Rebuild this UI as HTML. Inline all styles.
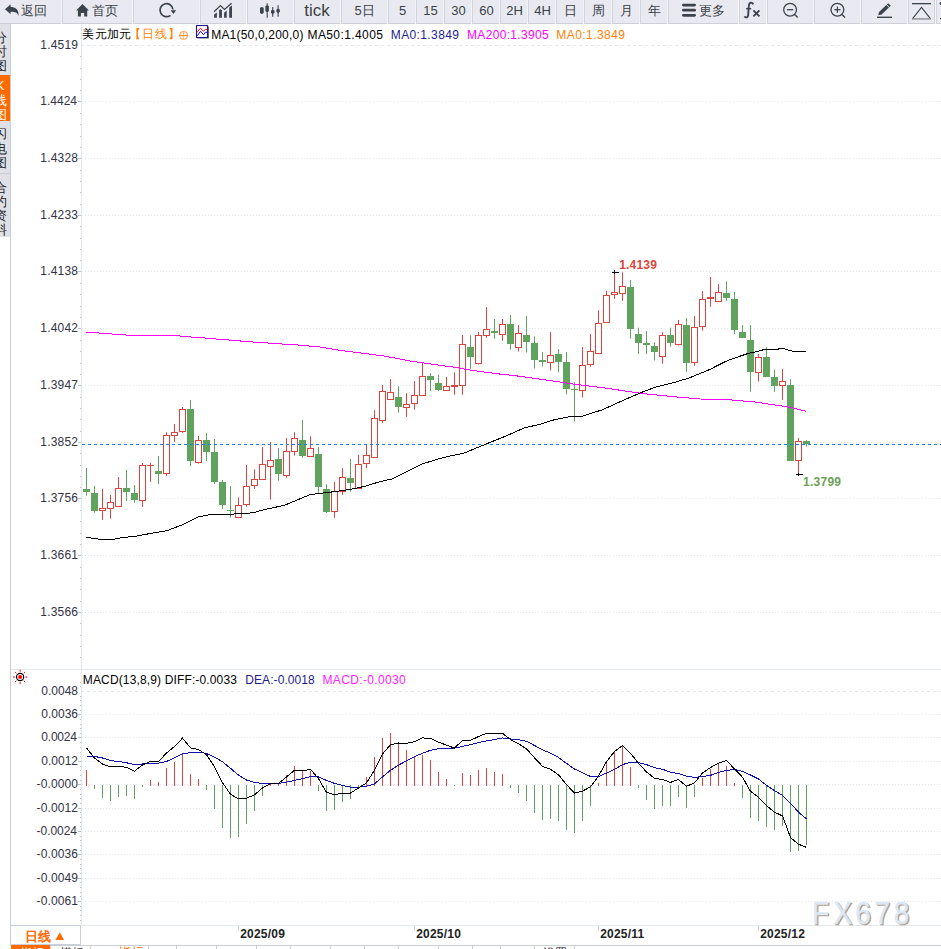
<!DOCTYPE html><html><head><meta charset="utf-8"><title>USDCAD</title><style>
html,body{margin:0;padding:0;width:941px;height:949px;overflow:hidden;background:#fff;font-family:"Liberation Sans",sans-serif;}
svg{position:absolute;left:0;top:0}
#tb{position:absolute;left:0;top:0;width:941px;height:24px;background:#f3f4f7}
.b{position:absolute;top:0;height:24px;box-sizing:border-box;background:#e9eaf1;border-left:1px solid #d3d5dc;border-bottom:1px solid #cdd0d7}

</style></head><body>
<div id="tb">
<div class="b" style="left:0px;width:61px;border-left:0;"></div>
<div class="b" style="left:62px;width:70px;"></div>
<div class="b" style="left:133px;width:66px;"></div>
<div class="b" style="left:200px;width:46px;"></div>
<div class="b" style="left:247px;width:46px;"></div>
<div class="b" style="left:294px;width:46px;"></div>
<div class="b" style="left:341px;width:46px;"></div>
<div class="b" style="left:388px;width:27px;"></div>
<div class="b" style="left:416px;width:27px;"></div>
<div class="b" style="left:444px;width:27px;"></div>
<div class="b" style="left:472px;width:27px;"></div>
<div class="b" style="left:500px;width:27px;"></div>
<div class="b" style="left:528px;width:27px;"></div>
<div class="b" style="left:556px;width:27px;"></div>
<div class="b" style="left:584px;width:27px;"></div>
<div class="b" style="left:612px;width:27px;"></div>
<div class="b" style="left:640px;width:27px;"></div>
<div class="b" style="left:668px;width:70px;"></div>
<div class="b" style="left:739px;width:27px;"></div>
<div class="b" style="left:767px;width:46px;"></div>
<div class="b" style="left:814px;width:46px;"></div>
<div class="b" style="left:861px;width:46px;"></div>
<div class="b" style="left:908px;width:27px;border-right:1px solid #d3d5dc;"></div>
<div class="b" style="left:936px;width:23px;"></div>
</div>
<svg width="941" height="949" viewBox="0 0 941 949">
<text x="34" y="15" text-anchor="middle" font-size="13" fill="#3a3f46">返回</text>
<text x="105" y="15" text-anchor="middle" font-size="13" fill="#3a3f46">首页</text>
<text x="317" y="16" text-anchor="middle" font-size="17" fill="#3a3f46">tick</text>
<text x="364.5" y="15.4" text-anchor="middle" font-size="13" fill="#3a3f46">5日</text>
<text x="402.5" y="15.4" text-anchor="middle" font-size="13" fill="#3a3f46">5</text>
<text x="430.5" y="15.4" text-anchor="middle" font-size="13" fill="#3a3f46">15</text>
<text x="458.5" y="15.4" text-anchor="middle" font-size="13" fill="#3a3f46">30</text>
<text x="486.5" y="15.4" text-anchor="middle" font-size="13" fill="#3a3f46">60</text>
<text x="514.5" y="15.4" text-anchor="middle" font-size="13" fill="#3a3f46">2H</text>
<text x="542.5" y="15.4" text-anchor="middle" font-size="13" fill="#3a3f46">4H</text>
<text x="570.5" y="15.4" text-anchor="middle" font-size="13" fill="#3a3f46">日</text>
<text x="598.5" y="15.4" text-anchor="middle" font-size="13" fill="#3a3f46">周</text>
<text x="626.5" y="15.4" text-anchor="middle" font-size="13" fill="#3a3f46">月</text>
<text x="654.5" y="15.4" text-anchor="middle" font-size="13" fill="#3a3f46">年</text>
<text x="712" y="15" text-anchor="middle" font-size="13" fill="#3a3f46">更多</text>
<path d="M5,9.3 L10.6,4.2 L10.6,7.0 C15.6,7.0 18.9,9.6 18.6,15.9 C17.6,12.9 15.6,11.7 10.6,11.7 L10.6,14.2 Z" fill="#3b434d"/>
<path d="M76,10.6 L82.5,4.1 L89,10.6 L87.2,10.6 L87.2,16.6 L84.2,16.6 L84.2,12.9 L80.9,12.9 L80.9,16.6 L77.9,16.6 L77.9,10.6 Z" fill="#3b434d"/>
<path d="M170.50,15.32 A6.5,6.5 0 1 1 172.96,9.52" fill="none" stroke="#3b434d" stroke-width="1.7"/>
<path d="M170.6,10.3 L176.2,10.3 L173.4,13.9 Z" fill="#3b434d"/>
<path fill="#3b434d" d="M214.1,17.8 L214.1,14.6 L216.9,12.4 L216.9,17.8 Z M219.1,17.8 L219.1,10.3 L220.5,8.9 L221.9,10.3 L221.9,17.8 Z M224.1,17.8 L224.1,12.8 L226.7,10.6 L226.7,17.8 Z M229.2,17.8 L229.2,7.6 L232,5.4 L232,17.8 Z"/>
<path d="M214.1,11.7 L220.4,5.6 L224.5,9.4 L231.6,3.2" fill="none" stroke="#3b434d" stroke-width="1.3"/>
<g stroke="#3b434d" stroke-width="1.1"><line x1="267.2" y1="3.2" x2="267.2" y2="17.7"/><line x1="272.7" y1="6.9" x2="272.7" y2="16.7"/><line x1="278.1" y1="5.2" x2="278.1" y2="16.7"/></g>
<path fill="#3b434d" d="M260,7.7 L261.85,6.9 L263.7,7.7 L263.7,13.1 L261.85,13.9 L260,13.1 Z M265.4,6.0 L267.15,5.2 L268.9,6.0 L268.9,11.299999999999999 L267.15,12.1 L265.4,11.299999999999999 Z M271,10.600000000000001 L272.75,9.8 L274.5,10.600000000000001 L274.5,13.1 L272.75,13.9 L271,13.1 Z M276.4,9.600000000000001 L278.1,8.8 L279.8,9.600000000000001 L279.8,12.1 L278.1,12.9 L276.4,12.1 Z "/>
<g fill="#3b434d"><rect x="682" y="3.7" width="14" height="2.8" rx="1.4"/><rect x="682" y="8.8" width="14" height="2.8" rx="1.4"/><rect x="682" y="13.9" width="14" height="2.8" rx="1.4"/></g>
<path d="M753.3,4.4 C752.6,2.7 751.1,2.3 750.1,2.9 C749.2,3.4 748.9,4.6 748.8,6.2 L748.2,14.8 C748.1,16.6 747.1,17.5 745.9,17.4 C745.2,17.3 744.7,17 744.3,16.5" fill="none" stroke="#3b434d" stroke-width="1.9"/>
<path d="M746.2,8.7 L751.2,8.7" stroke="#3b434d" stroke-width="1.5"/>
<path d="M753.4,10.4 L759.4,16.4 M759.4,10.4 L753.4,16.4" stroke="#3b434d" stroke-width="1.9"/>
<circle cx="790.1" cy="9.8" r="6.4" fill="none" stroke="#3b434d" stroke-width="1.3"/>
<line x1="794.7" y1="14.6" x2="797.7" y2="17.5" stroke="#3b434d" stroke-width="1.4"/>
<line x1="787.0" y1="9.7" x2="793.2" y2="9.7" stroke="#3b434d" stroke-width="1.3"/>
<circle cx="837.4" cy="9.8" r="6.4" fill="none" stroke="#3b434d" stroke-width="1.3"/>
<line x1="842.0" y1="14.6" x2="845.0" y2="17.5" stroke="#3b434d" stroke-width="1.4"/>
<line x1="834.3" y1="9.7" x2="840.5" y2="9.7" stroke="#3b434d" stroke-width="1.3"/>
<line x1="837.4" y1="6.6" x2="837.4" y2="12.8" stroke="#3b434d" stroke-width="1.3"/>
<path d="M878.2,15.2 L879,12 L888.2,3.2 L890.8,5.8 L881.6,14.6 Z" fill="#3b434d"/>
<rect x="877" y="16.6" width="15" height="1.4" fill="#3b434d"/>
<line x1="886.2" y1="4.4" x2="890" y2="8.2" stroke="#e9eaf1" stroke-width="0.9"/>
<rect x="912" y="3" width="19" height="1.3" fill="#3b434d"/>
<path d="M912.4,18.8 L921.5,7.3 L930.6,18.8" fill="none" stroke="#3b434d" stroke-width="1.1"/>
<rect x="912" y="18.2" width="19" height="1.4" fill="#8a8e96"/>
<circle cx="941" cy="3.5" r="1.4" fill="#3b434d"/><rect x="940" y="18" width="2" height="1.2" fill="#3b434d"/>
<rect x="0" y="24" width="10" height="213" fill="#dfe1e7"/>
<rect x="0" y="75" width="10" height="46" fill="#ff6a00"/>
<rect x="0" y="173" width="10" height="1" fill="#c9ccd3"/>
<rect x="10" y="24" width="1" height="921" fill="#c8cfd9"/>
<clipPath id="sb"><rect x="0" y="24" width="10" height="213"/></clipPath>
<g clip-path="url(#sb)" font-size="13">
<text x="-6.5" y="41.7" fill="#222">分</text>
<text x="-6.5" y="55.9" fill="#222">时</text>
<text x="-6.5" y="70.1" fill="#222">图</text>
<text x="-4.3" y="90.4" fill="#fff">K</text>
<text x="-6.5" y="104.6" fill="#fff">线</text>
<text x="-6.5" y="118.8" fill="#fff">图</text>
<text x="-6.5" y="138.4" fill="#222">闪</text>
<text x="-6.5" y="152.6" fill="#222">电</text>
<text x="-6.5" y="166.8" fill="#222">图</text>
<text x="-6.5" y="191.6" fill="#222">合</text>
<text x="-6.5" y="205.8" fill="#222">约</text>
<text x="-6.5" y="220.0" fill="#222">资</text>
<text x="-6.5" y="234.2" fill="#222">料</text>
</g>
<rect x="81" y="24" width="1" height="901" fill="#e3e8ef"/>
<rect x="11" y="669" width="930" height="1" fill="#e3e8ef"/>
<rect x="11" y="925" width="930" height="1" fill="#e3e8ef"/>
<line x1="81" y1="45.5" x2="941" y2="45.5" stroke="#e3e8ee" stroke-dasharray="3,3"/>
<text x="40.30" y="49" font-size="12" font-weight="normal" fill="#333344" textLength="37.70" lengthAdjust="spacing" >1.4519</text>
<line x1="82" y1="101.5" x2="941" y2="101.5" stroke="#e3e8ee" stroke-dasharray="1,2"/>
<line x1="78" y1="101.5" x2="81" y2="101.5" stroke="#b9c0c9"/>
<text x="40.30" y="105" font-size="12" font-weight="normal" fill="#333344" textLength="36.70" lengthAdjust="spacing" >1.4424</text>
<line x1="82" y1="158.5" x2="941" y2="158.5" stroke="#e3e8ee" stroke-dasharray="1,2"/>
<line x1="78" y1="158.5" x2="81" y2="158.5" stroke="#b9c0c9"/>
<text x="40.30" y="162" font-size="12" font-weight="normal" fill="#333344" textLength="37.70" lengthAdjust="spacing" >1.4328</text>
<line x1="82" y1="215.5" x2="941" y2="215.5" stroke="#e3e8ee" stroke-dasharray="1,2"/>
<line x1="78" y1="215.5" x2="81" y2="215.5" stroke="#b9c0c9"/>
<text x="40.30" y="219" font-size="12" font-weight="normal" fill="#333344" textLength="37.70" lengthAdjust="spacing" >1.4233</text>
<line x1="82" y1="271.5" x2="941" y2="271.5" stroke="#e3e8ee" stroke-dasharray="1,2"/>
<line x1="78" y1="271.5" x2="81" y2="271.5" stroke="#b9c0c9"/>
<text x="40.30" y="275" font-size="12" font-weight="normal" fill="#333344" textLength="37.70" lengthAdjust="spacing" >1.4138</text>
<line x1="82" y1="328.5" x2="941" y2="328.5" stroke="#e3e8ee" stroke-dasharray="1,2"/>
<line x1="78" y1="328.5" x2="81" y2="328.5" stroke="#b9c0c9"/>
<text x="40.30" y="332" font-size="12" font-weight="normal" fill="#333344" textLength="37.70" lengthAdjust="spacing" >1.4042</text>
<line x1="82" y1="385.5" x2="941" y2="385.5" stroke="#e3e8ee" stroke-dasharray="1,2"/>
<line x1="78" y1="385.5" x2="81" y2="385.5" stroke="#b9c0c9"/>
<text x="40.30" y="389" font-size="12" font-weight="normal" fill="#333344" textLength="37.70" lengthAdjust="spacing" >1.3947</text>
<line x1="82" y1="442.5" x2="941" y2="442.5" stroke="#e3e8ee" stroke-dasharray="1,2"/>
<line x1="78" y1="442.5" x2="81" y2="442.5" stroke="#b9c0c9"/>
<text x="40.30" y="446" font-size="12" font-weight="normal" fill="#333344" textLength="37.70" lengthAdjust="spacing" >1.3852</text>
<line x1="82" y1="498.5" x2="941" y2="498.5" stroke="#e3e8ee" stroke-dasharray="1,2"/>
<line x1="78" y1="498.5" x2="81" y2="498.5" stroke="#b9c0c9"/>
<text x="40.30" y="502" font-size="12" font-weight="normal" fill="#333344" textLength="37.70" lengthAdjust="spacing" >1.3756</text>
<line x1="82" y1="555.5" x2="941" y2="555.5" stroke="#e3e8ee" stroke-dasharray="1,2"/>
<line x1="78" y1="555.5" x2="81" y2="555.5" stroke="#b9c0c9"/>
<text x="40.30" y="559" font-size="12" font-weight="normal" fill="#333344" textLength="37.70" lengthAdjust="spacing" >1.3661</text>
<line x1="82" y1="612.5" x2="941" y2="612.5" stroke="#e3e8ee" stroke-dasharray="1,2"/>
<line x1="78" y1="612.5" x2="81" y2="612.5" stroke="#b9c0c9"/>
<text x="40.30" y="616" font-size="12" font-weight="normal" fill="#333344" textLength="37.70" lengthAdjust="spacing" >1.3566</text>
<rect x="80" y="56" width="1" height="1" fill="#b9c0c9"/>
<rect x="80" y="68" width="1" height="1" fill="#b9c0c9"/>
<rect x="80" y="79" width="1" height="1" fill="#b9c0c9"/>
<rect x="80" y="90" width="1" height="1" fill="#b9c0c9"/>
<rect x="80" y="113" width="1" height="1" fill="#b9c0c9"/>
<rect x="80" y="124" width="1" height="1" fill="#b9c0c9"/>
<rect x="80" y="136" width="1" height="1" fill="#b9c0c9"/>
<rect x="80" y="147" width="1" height="1" fill="#b9c0c9"/>
<rect x="80" y="170" width="1" height="1" fill="#b9c0c9"/>
<rect x="80" y="181" width="1" height="1" fill="#b9c0c9"/>
<rect x="80" y="192" width="1" height="1" fill="#b9c0c9"/>
<rect x="80" y="204" width="1" height="1" fill="#b9c0c9"/>
<rect x="80" y="226" width="1" height="1" fill="#b9c0c9"/>
<rect x="80" y="238" width="1" height="1" fill="#b9c0c9"/>
<rect x="80" y="249" width="1" height="1" fill="#b9c0c9"/>
<rect x="80" y="260" width="1" height="1" fill="#b9c0c9"/>
<rect x="80" y="283" width="1" height="1" fill="#b9c0c9"/>
<rect x="80" y="294" width="1" height="1" fill="#b9c0c9"/>
<rect x="80" y="306" width="1" height="1" fill="#b9c0c9"/>
<rect x="80" y="317" width="1" height="1" fill="#b9c0c9"/>
<rect x="80" y="340" width="1" height="1" fill="#b9c0c9"/>
<rect x="80" y="351" width="1" height="1" fill="#b9c0c9"/>
<rect x="80" y="363" width="1" height="1" fill="#b9c0c9"/>
<rect x="80" y="374" width="1" height="1" fill="#b9c0c9"/>
<rect x="80" y="397" width="1" height="1" fill="#b9c0c9"/>
<rect x="80" y="408" width="1" height="1" fill="#b9c0c9"/>
<rect x="80" y="419" width="1" height="1" fill="#b9c0c9"/>
<rect x="80" y="431" width="1" height="1" fill="#b9c0c9"/>
<rect x="80" y="453" width="1" height="1" fill="#b9c0c9"/>
<rect x="80" y="465" width="1" height="1" fill="#b9c0c9"/>
<rect x="80" y="476" width="1" height="1" fill="#b9c0c9"/>
<rect x="80" y="487" width="1" height="1" fill="#b9c0c9"/>
<rect x="80" y="510" width="1" height="1" fill="#b9c0c9"/>
<rect x="80" y="521" width="1" height="1" fill="#b9c0c9"/>
<rect x="80" y="533" width="1" height="1" fill="#b9c0c9"/>
<rect x="80" y="544" width="1" height="1" fill="#b9c0c9"/>
<rect x="80" y="567" width="1" height="1" fill="#b9c0c9"/>
<rect x="80" y="578" width="1" height="1" fill="#b9c0c9"/>
<rect x="80" y="589" width="1" height="1" fill="#b9c0c9"/>
<rect x="80" y="601" width="1" height="1" fill="#b9c0c9"/>
<rect x="80" y="623" width="1" height="1" fill="#b9c0c9"/>
<rect x="80" y="635" width="1" height="1" fill="#b9c0c9"/>
<rect x="80" y="646" width="1" height="1" fill="#b9c0c9"/>
<rect x="80" y="657" width="1" height="1" fill="#b9c0c9"/>
<line x1="81" y1="691.5" x2="941" y2="691.5" stroke="#e3e8ee" stroke-dasharray="3,3"/>
<text x="41.30" y="695" font-size="12" font-weight="normal" fill="#333344" textLength="36.70" lengthAdjust="spacing" >0.0048</text>
<line x1="82" y1="714.5" x2="941" y2="714.5" stroke="#e3e8ee" stroke-dasharray="1,2"/>
<line x1="78" y1="714.5" x2="81" y2="714.5" stroke="#b9c0c9"/>
<text x="41.30" y="718" font-size="12" font-weight="normal" fill="#333344" textLength="36.70" lengthAdjust="spacing" >0.0036</text>
<line x1="82" y1="737.5" x2="941" y2="737.5" stroke="#e3e8ee" stroke-dasharray="1,2"/>
<line x1="78" y1="737.5" x2="81" y2="737.5" stroke="#b9c0c9"/>
<text x="41.30" y="741" font-size="12" font-weight="normal" fill="#333344" textLength="35.70" lengthAdjust="spacing" >0.0024</text>
<line x1="82" y1="761.5" x2="941" y2="761.5" stroke="#e3e8ee" stroke-dasharray="1,2"/>
<line x1="78" y1="761.5" x2="81" y2="761.5" stroke="#b9c0c9"/>
<text x="41.30" y="765" font-size="12" font-weight="normal" fill="#333344" textLength="36.70" lengthAdjust="spacing" >0.0012</text>
<line x1="82" y1="784.5" x2="941" y2="784.5" stroke="#e3e8ee" stroke-dasharray="1,2"/>
<line x1="78" y1="784.5" x2="81" y2="784.5" stroke="#b9c0c9"/>
<text x="36.60" y="788" font-size="12" font-weight="normal" fill="#333344" textLength="41.40" lengthAdjust="spacing" >-0.0000</text>
<line x1="82" y1="808.5" x2="941" y2="808.5" stroke="#e3e8ee" stroke-dasharray="1,2"/>
<line x1="78" y1="808.5" x2="81" y2="808.5" stroke="#b9c0c9"/>
<text x="36.60" y="812" font-size="12" font-weight="normal" fill="#333344" textLength="41.40" lengthAdjust="spacing" >-0.0012</text>
<line x1="82" y1="831.5" x2="941" y2="831.5" stroke="#e3e8ee" stroke-dasharray="1,2"/>
<line x1="78" y1="831.5" x2="81" y2="831.5" stroke="#b9c0c9"/>
<text x="36.60" y="835" font-size="12" font-weight="normal" fill="#333344" textLength="40.40" lengthAdjust="spacing" >-0.0024</text>
<line x1="82" y1="854.5" x2="941" y2="854.5" stroke="#e3e8ee" stroke-dasharray="1,2"/>
<line x1="78" y1="854.5" x2="81" y2="854.5" stroke="#b9c0c9"/>
<text x="36.60" y="858" font-size="12" font-weight="normal" fill="#333344" textLength="41.40" lengthAdjust="spacing" >-0.0036</text>
<line x1="82" y1="878.5" x2="941" y2="878.5" stroke="#e3e8ee" stroke-dasharray="1,2"/>
<line x1="78" y1="878.5" x2="81" y2="878.5" stroke="#b9c0c9"/>
<text x="36.60" y="882" font-size="12" font-weight="normal" fill="#333344" textLength="41.40" lengthAdjust="spacing" >-0.0049</text>
<line x1="82" y1="901.5" x2="941" y2="901.5" stroke="#e3e8ee" stroke-dasharray="1,2"/>
<line x1="78" y1="901.5" x2="81" y2="901.5" stroke="#b9c0c9"/>
<text x="36.60" y="905" font-size="12" font-weight="normal" fill="#333344" textLength="41.40" lengthAdjust="spacing" >-0.0061</text>
<rect x="80" y="682" width="1" height="1" fill="#b9c0c9"/>
<rect x="80" y="686" width="1" height="1" fill="#b9c0c9"/>
<rect x="80" y="696" width="1" height="1" fill="#b9c0c9"/>
<rect x="80" y="700" width="1" height="1" fill="#b9c0c9"/>
<rect x="80" y="705" width="1" height="1" fill="#b9c0c9"/>
<rect x="80" y="710" width="1" height="1" fill="#b9c0c9"/>
<rect x="80" y="719" width="1" height="1" fill="#b9c0c9"/>
<rect x="80" y="724" width="1" height="1" fill="#b9c0c9"/>
<rect x="80" y="728" width="1" height="1" fill="#b9c0c9"/>
<rect x="80" y="733" width="1" height="1" fill="#b9c0c9"/>
<rect x="80" y="742" width="1" height="1" fill="#b9c0c9"/>
<rect x="80" y="747" width="1" height="1" fill="#b9c0c9"/>
<rect x="80" y="752" width="1" height="1" fill="#b9c0c9"/>
<rect x="80" y="756" width="1" height="1" fill="#b9c0c9"/>
<rect x="80" y="766" width="1" height="1" fill="#b9c0c9"/>
<rect x="80" y="770" width="1" height="1" fill="#b9c0c9"/>
<rect x="80" y="775" width="1" height="1" fill="#b9c0c9"/>
<rect x="80" y="780" width="1" height="1" fill="#b9c0c9"/>
<rect x="80" y="789" width="1" height="1" fill="#b9c0c9"/>
<rect x="80" y="794" width="1" height="1" fill="#b9c0c9"/>
<rect x="80" y="798" width="1" height="1" fill="#b9c0c9"/>
<rect x="80" y="803" width="1" height="1" fill="#b9c0c9"/>
<rect x="80" y="812" width="1" height="1" fill="#b9c0c9"/>
<rect x="80" y="817" width="1" height="1" fill="#b9c0c9"/>
<rect x="80" y="822" width="1" height="1" fill="#b9c0c9"/>
<rect x="80" y="826" width="1" height="1" fill="#b9c0c9"/>
<rect x="80" y="836" width="1" height="1" fill="#b9c0c9"/>
<rect x="80" y="840" width="1" height="1" fill="#b9c0c9"/>
<rect x="80" y="845" width="1" height="1" fill="#b9c0c9"/>
<rect x="80" y="850" width="1" height="1" fill="#b9c0c9"/>
<rect x="80" y="859" width="1" height="1" fill="#b9c0c9"/>
<rect x="80" y="864" width="1" height="1" fill="#b9c0c9"/>
<rect x="80" y="868" width="1" height="1" fill="#b9c0c9"/>
<rect x="80" y="873" width="1" height="1" fill="#b9c0c9"/>
<rect x="80" y="882" width="1" height="1" fill="#b9c0c9"/>
<rect x="80" y="887" width="1" height="1" fill="#b9c0c9"/>
<rect x="80" y="892" width="1" height="1" fill="#b9c0c9"/>
<rect x="80" y="896" width="1" height="1" fill="#b9c0c9"/>
<rect x="80" y="906" width="1" height="1" fill="#b9c0c9"/>
<rect x="80" y="910" width="1" height="1" fill="#b9c0c9"/>
<rect x="80" y="915" width="1" height="1" fill="#b9c0c9"/>
<rect x="80" y="920" width="1" height="1" fill="#b9c0c9"/>
<line x1="86.5" y1="468.0" x2="86.5" y2="495.7" stroke="#5fa35f"/>
<rect x="83" y="489" width="7" height="3" fill="#5fa35f"/>
<line x1="94.5" y1="486.0" x2="94.5" y2="512.7" stroke="#5fa35f"/>
<rect x="91" y="493" width="7" height="18" fill="#5fa35f"/>
<line x1="102.5" y1="488.8" x2="102.5" y2="508" stroke="#d9463d"/>
<line x1="102.5" y1="511" x2="102.5" y2="519.8" stroke="#d9463d"/>
<rect x="99.5" y="508.5" width="6" height="2" fill="#fff" stroke="#d9463d"/>
<line x1="110.5" y1="494.9" x2="110.5" y2="502" stroke="#d9463d"/>
<line x1="110.5" y1="509" x2="110.5" y2="518.7" stroke="#d9463d"/>
<rect x="107.5" y="502.5" width="6" height="6" fill="#fff" stroke="#d9463d"/>
<line x1="118.5" y1="477.0" x2="118.5" y2="488" stroke="#d9463d"/>
<line x1="118.5" y1="507" x2="118.5" y2="506.7" stroke="#d9463d"/>
<rect x="115.5" y="488.5" width="6" height="18" fill="#fff" stroke="#d9463d"/>
<line x1="126.5" y1="470.0" x2="126.5" y2="501.0" stroke="#5fa35f"/>
<rect x="123" y="488" width="7" height="4" fill="#5fa35f"/>
<line x1="134.5" y1="485.0" x2="134.5" y2="502.8" stroke="#5fa35f"/>
<rect x="131" y="493" width="7" height="7" fill="#5fa35f"/>
<line x1="142.5" y1="463.0" x2="142.5" y2="465" stroke="#d9463d"/>
<line x1="142.5" y1="501" x2="142.5" y2="507.0" stroke="#d9463d"/>
<rect x="139.5" y="465.5" width="6" height="35" fill="#fff" stroke="#d9463d"/>
<line x1="150.5" y1="462.8" x2="150.5" y2="481.8" stroke="#d9463d"/>
<rect x="147" y="465" width="7" height="1" fill="#d9463d"/>
<line x1="158.5" y1="456.0" x2="158.5" y2="484.0" stroke="#5fa35f"/>
<rect x="155" y="471" width="7" height="3" fill="#5fa35f"/>
<line x1="166.5" y1="432.2" x2="166.5" y2="435" stroke="#d9463d"/>
<line x1="166.5" y1="474" x2="166.5" y2="476.0" stroke="#d9463d"/>
<rect x="163.5" y="435.5" width="6" height="38" fill="#fff" stroke="#d9463d"/>
<line x1="174.5" y1="424.0" x2="174.5" y2="432" stroke="#d9463d"/>
<line x1="174.5" y1="436" x2="174.5" y2="442.0" stroke="#d9463d"/>
<rect x="171.5" y="432.5" width="6" height="3" fill="#fff" stroke="#d9463d"/>
<line x1="182.5" y1="407.0" x2="182.5" y2="409" stroke="#d9463d"/>
<line x1="182.5" y1="432" x2="182.5" y2="433.0" stroke="#d9463d"/>
<rect x="179.5" y="409.5" width="6" height="22" fill="#fff" stroke="#d9463d"/>
<line x1="190.5" y1="400.0" x2="190.5" y2="466.0" stroke="#5fa35f"/>
<rect x="187" y="409" width="7" height="52" fill="#5fa35f"/>
<line x1="198.5" y1="436.0" x2="198.5" y2="440" stroke="#d9463d"/>
<line x1="198.5" y1="463" x2="198.5" y2="463.6" stroke="#d9463d"/>
<rect x="195.5" y="440.5" width="6" height="22" fill="#fff" stroke="#d9463d"/>
<line x1="206.5" y1="433.0" x2="206.5" y2="461.0" stroke="#5fa35f"/>
<rect x="203" y="440" width="7" height="12" fill="#5fa35f"/>
<line x1="214.5" y1="439.0" x2="214.5" y2="484.0" stroke="#5fa35f"/>
<rect x="211" y="452" width="7" height="30" fill="#5fa35f"/>
<line x1="222.5" y1="480.0" x2="222.5" y2="509.0" stroke="#5fa35f"/>
<rect x="219" y="482" width="7" height="23" fill="#5fa35f"/>
<line x1="230.5" y1="486.0" x2="230.5" y2="517.6" stroke="#5fa35f"/>
<rect x="227" y="510" width="7" height="1" fill="#5fa35f"/>
<line x1="238.5" y1="497.4" x2="238.5" y2="505" stroke="#d9463d"/>
<line x1="238.5" y1="518" x2="238.5" y2="517.3" stroke="#d9463d"/>
<rect x="235.5" y="505.5" width="6" height="12" fill="#fff" stroke="#d9463d"/>
<line x1="246.5" y1="465.0" x2="246.5" y2="486" stroke="#d9463d"/>
<line x1="246.5" y1="505" x2="246.5" y2="506.7" stroke="#d9463d"/>
<rect x="243.5" y="486.5" width="6" height="18" fill="#fff" stroke="#d9463d"/>
<line x1="254.5" y1="469.3" x2="254.5" y2="479" stroke="#d9463d"/>
<line x1="254.5" y1="486" x2="254.5" y2="488.9" stroke="#d9463d"/>
<rect x="251.5" y="479.5" width="6" height="6" fill="#fff" stroke="#d9463d"/>
<line x1="262.5" y1="447.2" x2="262.5" y2="464" stroke="#d9463d"/>
<line x1="262.5" y1="480" x2="262.5" y2="479.5" stroke="#d9463d"/>
<rect x="259.5" y="464.5" width="6" height="15" fill="#fff" stroke="#d9463d"/>
<line x1="270.5" y1="442.1" x2="270.5" y2="460" stroke="#d9463d"/>
<line x1="270.5" y1="467" x2="270.5" y2="499.6" stroke="#d9463d"/>
<rect x="267.5" y="460.5" width="6" height="6" fill="#fff" stroke="#d9463d"/>
<line x1="278.5" y1="448.0" x2="278.5" y2="480.7" stroke="#5fa35f"/>
<rect x="275" y="459" width="7" height="15" fill="#5fa35f"/>
<line x1="286.5" y1="438.0" x2="286.5" y2="451" stroke="#d9463d"/>
<line x1="286.5" y1="476" x2="286.5" y2="477.8" stroke="#d9463d"/>
<rect x="283.5" y="451.5" width="6" height="24" fill="#fff" stroke="#d9463d"/>
<line x1="294.5" y1="432.2" x2="294.5" y2="438" stroke="#d9463d"/>
<line x1="294.5" y1="452" x2="294.5" y2="455.7" stroke="#d9463d"/>
<rect x="291.5" y="438.5" width="6" height="13" fill="#fff" stroke="#d9463d"/>
<line x1="302.5" y1="420.0" x2="302.5" y2="457.8" stroke="#5fa35f"/>
<rect x="299" y="440" width="7" height="16" fill="#5fa35f"/>
<line x1="310.5" y1="436.2" x2="310.5" y2="448" stroke="#d9463d"/>
<line x1="310.5" y1="457" x2="310.5" y2="456.6" stroke="#d9463d"/>
<rect x="307.5" y="448.5" width="6" height="8" fill="#fff" stroke="#d9463d"/>
<line x1="318.5" y1="447.2" x2="318.5" y2="492.8" stroke="#5fa35f"/>
<rect x="315" y="454" width="7" height="33" fill="#5fa35f"/>
<line x1="326.5" y1="484.3" x2="326.5" y2="513.0" stroke="#5fa35f"/>
<rect x="323" y="489" width="7" height="23" fill="#5fa35f"/>
<line x1="334.5" y1="482.0" x2="334.5" y2="491" stroke="#d9463d"/>
<line x1="334.5" y1="512" x2="334.5" y2="517.8" stroke="#d9463d"/>
<rect x="331.5" y="491.5" width="6" height="20" fill="#fff" stroke="#d9463d"/>
<line x1="342.5" y1="468.1" x2="342.5" y2="477" stroke="#d9463d"/>
<line x1="342.5" y1="492" x2="342.5" y2="494.8" stroke="#d9463d"/>
<rect x="339.5" y="477.5" width="6" height="14" fill="#fff" stroke="#d9463d"/>
<line x1="350.5" y1="459.1" x2="350.5" y2="491.8" stroke="#5fa35f"/>
<rect x="347" y="478" width="7" height="5" fill="#5fa35f"/>
<line x1="358.5" y1="454.9" x2="358.5" y2="464" stroke="#d9463d"/>
<line x1="358.5" y1="489" x2="358.5" y2="488.4" stroke="#d9463d"/>
<rect x="355.5" y="464.5" width="6" height="24" fill="#fff" stroke="#d9463d"/>
<line x1="366.5" y1="444.7" x2="366.5" y2="455" stroke="#d9463d"/>
<line x1="366.5" y1="464" x2="366.5" y2="468.1" stroke="#d9463d"/>
<rect x="363.5" y="455.5" width="6" height="8" fill="#fff" stroke="#d9463d"/>
<line x1="374.5" y1="410.2" x2="374.5" y2="418" stroke="#d9463d"/>
<line x1="374.5" y1="458" x2="374.5" y2="457.3" stroke="#d9463d"/>
<rect x="371.5" y="418.5" width="6" height="39" fill="#fff" stroke="#d9463d"/>
<line x1="382.5" y1="385.0" x2="382.5" y2="391" stroke="#d9463d"/>
<line x1="382.5" y1="421" x2="382.5" y2="422.8" stroke="#d9463d"/>
<rect x="379.5" y="391.5" width="6" height="29" fill="#fff" stroke="#d9463d"/>
<line x1="390.5" y1="379.1" x2="390.5" y2="392" stroke="#d9463d"/>
<line x1="390.5" y1="400" x2="390.5" y2="399.5" stroke="#d9463d"/>
<rect x="387.5" y="392.5" width="6" height="7" fill="#fff" stroke="#d9463d"/>
<line x1="398.5" y1="386.2" x2="398.5" y2="412.6" stroke="#5fa35f"/>
<rect x="395" y="397" width="7" height="10" fill="#5fa35f"/>
<line x1="406.5" y1="393.2" x2="406.5" y2="404" stroke="#d9463d"/>
<line x1="406.5" y1="408" x2="406.5" y2="416.8" stroke="#d9463d"/>
<rect x="403.5" y="404.5" width="6" height="3" fill="#fff" stroke="#d9463d"/>
<line x1="414.5" y1="381.1" x2="414.5" y2="395" stroke="#d9463d"/>
<line x1="414.5" y1="404" x2="414.5" y2="409.7" stroke="#d9463d"/>
<rect x="411.5" y="395.5" width="6" height="8" fill="#fff" stroke="#d9463d"/>
<line x1="422.5" y1="362.6" x2="422.5" y2="376" stroke="#d9463d"/>
<line x1="422.5" y1="396" x2="422.5" y2="395.6" stroke="#d9463d"/>
<rect x="419.5" y="376.5" width="6" height="19" fill="#fff" stroke="#d9463d"/>
<line x1="430.5" y1="373.1" x2="430.5" y2="391.0" stroke="#5fa35f"/>
<rect x="427" y="376" width="7" height="4" fill="#5fa35f"/>
<line x1="438.5" y1="374.8" x2="438.5" y2="391.0" stroke="#5fa35f"/>
<rect x="435" y="383" width="7" height="7" fill="#5fa35f"/>
<line x1="446.5" y1="377.0" x2="446.5" y2="386" stroke="#d9463d"/>
<line x1="446.5" y1="391" x2="446.5" y2="390.5" stroke="#d9463d"/>
<rect x="443.5" y="386.5" width="6" height="4" fill="#fff" stroke="#d9463d"/>
<line x1="454.5" y1="372.3" x2="454.5" y2="385" stroke="#d9463d"/>
<line x1="454.5" y1="387" x2="454.5" y2="394.7" stroke="#d9463d"/>
<rect x="451" y="385" width="7" height="2" fill="#d9463d"/>
<line x1="462.5" y1="334.9" x2="462.5" y2="344" stroke="#d9463d"/>
<line x1="462.5" y1="386" x2="462.5" y2="394.7" stroke="#d9463d"/>
<rect x="459.5" y="344.5" width="6" height="41" fill="#fff" stroke="#d9463d"/>
<line x1="470.5" y1="335.2" x2="470.5" y2="368.9" stroke="#5fa35f"/>
<rect x="467" y="347" width="7" height="10" fill="#5fa35f"/>
<line x1="478.5" y1="332.0" x2="478.5" y2="335" stroke="#d9463d"/>
<line x1="478.5" y1="364" x2="478.5" y2="364.6" stroke="#d9463d"/>
<rect x="475.5" y="335.5" width="6" height="28" fill="#fff" stroke="#d9463d"/>
<line x1="486.5" y1="307.1" x2="486.5" y2="329" stroke="#d9463d"/>
<line x1="486.5" y1="336" x2="486.5" y2="337.8" stroke="#d9463d"/>
<rect x="483.5" y="329.5" width="6" height="6" fill="#fff" stroke="#d9463d"/>
<line x1="494.5" y1="319.0" x2="494.5" y2="338.8" stroke="#5fa35f"/>
<rect x="491" y="331" width="7" height="2" fill="#5fa35f"/>
<line x1="502.5" y1="319.0" x2="502.5" y2="324" stroke="#d9463d"/>
<line x1="502.5" y1="335" x2="502.5" y2="340.8" stroke="#d9463d"/>
<rect x="499.5" y="324.5" width="6" height="10" fill="#fff" stroke="#d9463d"/>
<line x1="510.5" y1="315.0" x2="510.5" y2="349.8" stroke="#5fa35f"/>
<rect x="507" y="324" width="7" height="20" fill="#5fa35f"/>
<line x1="518.5" y1="325.2" x2="518.5" y2="333" stroke="#d9463d"/>
<line x1="518.5" y1="348" x2="518.5" y2="351.5" stroke="#d9463d"/>
<rect x="515.5" y="333.5" width="6" height="14" fill="#fff" stroke="#d9463d"/>
<line x1="526.5" y1="316.0" x2="526.5" y2="352.5" stroke="#5fa35f"/>
<rect x="523" y="335" width="7" height="7" fill="#5fa35f"/>
<line x1="534.5" y1="336.3" x2="534.5" y2="368.5" stroke="#5fa35f"/>
<rect x="531" y="343" width="7" height="17" fill="#5fa35f"/>
<line x1="542.5" y1="352.0" x2="542.5" y2="366.6" stroke="#5fa35f"/>
<rect x="539" y="360" width="7" height="2" fill="#5fa35f"/>
<line x1="550.5" y1="331.9" x2="550.5" y2="355" stroke="#d9463d"/>
<line x1="550.5" y1="363" x2="550.5" y2="370.4" stroke="#d9463d"/>
<rect x="547.5" y="355.5" width="6" height="7" fill="#fff" stroke="#d9463d"/>
<line x1="558.5" y1="349.0" x2="558.5" y2="372.3" stroke="#5fa35f"/>
<rect x="555" y="354" width="7" height="8" fill="#5fa35f"/>
<line x1="566.5" y1="352.0" x2="566.5" y2="394.5" stroke="#5fa35f"/>
<rect x="563" y="362" width="7" height="27" fill="#5fa35f"/>
<line x1="574.5" y1="382.1" x2="574.5" y2="421.6" stroke="#5fa35f"/>
<rect x="571" y="389" width="7" height="1" fill="#5fa35f"/>
<line x1="582.5" y1="347.1" x2="582.5" y2="365" stroke="#d9463d"/>
<line x1="582.5" y1="391" x2="582.5" y2="397.5" stroke="#d9463d"/>
<rect x="579.5" y="365.5" width="6" height="25" fill="#fff" stroke="#d9463d"/>
<line x1="590.5" y1="334.0" x2="590.5" y2="351" stroke="#d9463d"/>
<line x1="590.5" y1="365" x2="590.5" y2="366.6" stroke="#d9463d"/>
<rect x="587.5" y="351.5" width="6" height="13" fill="#fff" stroke="#d9463d"/>
<line x1="598.5" y1="310.3" x2="598.5" y2="323" stroke="#d9463d"/>
<line x1="598.5" y1="354" x2="598.5" y2="353.3" stroke="#d9463d"/>
<rect x="595.5" y="323.5" width="6" height="30" fill="#fff" stroke="#d9463d"/>
<line x1="606.5" y1="290.8" x2="606.5" y2="295" stroke="#d9463d"/>
<line x1="606.5" y1="323" x2="606.5" y2="322.4" stroke="#d9463d"/>
<rect x="603.5" y="295.5" width="6" height="27" fill="#fff" stroke="#d9463d"/>
<line x1="614.5" y1="272.4" x2="614.5" y2="292" stroke="#d9463d"/>
<line x1="614.5" y1="295" x2="614.5" y2="298.9" stroke="#d9463d"/>
<rect x="611.5" y="292.5" width="6" height="2" fill="#fff" stroke="#d9463d"/>
<line x1="622.5" y1="272.4" x2="622.5" y2="286" stroke="#d9463d"/>
<line x1="622.5" y1="294" x2="622.5" y2="300.8" stroke="#d9463d"/>
<rect x="619.5" y="286.5" width="6" height="7" fill="#fff" stroke="#d9463d"/>
<line x1="630.5" y1="280.0" x2="630.5" y2="338.7" stroke="#5fa35f"/>
<rect x="627" y="287" width="7" height="42" fill="#5fa35f"/>
<line x1="638.5" y1="327.7" x2="638.5" y2="353.9" stroke="#5fa35f"/>
<rect x="635" y="334" width="7" height="9" fill="#5fa35f"/>
<line x1="646.5" y1="331.1" x2="646.5" y2="353.9" stroke="#5fa35f"/>
<rect x="643" y="343" width="7" height="2" fill="#5fa35f"/>
<line x1="654.5" y1="342.3" x2="654.5" y2="360.5" stroke="#5fa35f"/>
<rect x="651" y="346" width="7" height="6" fill="#5fa35f"/>
<line x1="662.5" y1="332.1" x2="662.5" y2="335" stroke="#d9463d"/>
<line x1="662.5" y1="357" x2="662.5" y2="363.7" stroke="#d9463d"/>
<rect x="659.5" y="335.5" width="6" height="21" fill="#fff" stroke="#d9463d"/>
<line x1="670.5" y1="327.7" x2="670.5" y2="346.7" stroke="#5fa35f"/>
<rect x="667" y="335" width="7" height="8" fill="#5fa35f"/>
<line x1="678.5" y1="320.0" x2="678.5" y2="324" stroke="#d9463d"/>
<line x1="678.5" y1="345" x2="678.5" y2="345.5" stroke="#d9463d"/>
<rect x="675.5" y="324.5" width="6" height="20" fill="#fff" stroke="#d9463d"/>
<line x1="686.5" y1="318.2" x2="686.5" y2="371.9" stroke="#5fa35f"/>
<rect x="683" y="325" width="7" height="38" fill="#5fa35f"/>
<line x1="694.5" y1="316.1" x2="694.5" y2="327" stroke="#d9463d"/>
<line x1="694.5" y1="363" x2="694.5" y2="365.8" stroke="#d9463d"/>
<rect x="691.5" y="327.5" width="6" height="35" fill="#fff" stroke="#d9463d"/>
<line x1="702.5" y1="291.1" x2="702.5" y2="299" stroke="#d9463d"/>
<line x1="702.5" y1="327" x2="702.5" y2="330.6" stroke="#d9463d"/>
<rect x="699.5" y="299.5" width="6" height="27" fill="#fff" stroke="#d9463d"/>
<line x1="710.5" y1="277.0" x2="710.5" y2="297" stroke="#d9463d"/>
<line x1="710.5" y1="299" x2="710.5" y2="306.8" stroke="#d9463d"/>
<rect x="707" y="297" width="7" height="2" fill="#d9463d"/>
<line x1="718.5" y1="284.1" x2="718.5" y2="292" stroke="#d9463d"/>
<line x1="718.5" y1="302" x2="718.5" y2="301.7" stroke="#d9463d"/>
<rect x="715.5" y="292.5" width="6" height="9" fill="#fff" stroke="#d9463d"/>
<line x1="726.5" y1="281.3" x2="726.5" y2="300.8" stroke="#5fa35f"/>
<rect x="723" y="293" width="7" height="5" fill="#5fa35f"/>
<line x1="734.5" y1="292.0" x2="734.5" y2="334.0" stroke="#5fa35f"/>
<rect x="731" y="299" width="7" height="31" fill="#5fa35f"/>
<line x1="742.5" y1="325.0" x2="742.5" y2="337.7" stroke="#5fa35f"/>
<rect x="739" y="332" width="7" height="6" fill="#5fa35f"/>
<line x1="750.5" y1="325.0" x2="750.5" y2="391.8" stroke="#5fa35f"/>
<rect x="747" y="340" width="7" height="32" fill="#5fa35f"/>
<line x1="758.5" y1="353.9" x2="758.5" y2="357" stroke="#d9463d"/>
<line x1="758.5" y1="373" x2="758.5" y2="381.6" stroke="#d9463d"/>
<rect x="755.5" y="357.5" width="6" height="15" fill="#fff" stroke="#d9463d"/>
<line x1="766.5" y1="347.1" x2="766.5" y2="377.0" stroke="#5fa35f"/>
<rect x="763" y="357" width="7" height="20" fill="#5fa35f"/>
<line x1="774.5" y1="369.7" x2="774.5" y2="391.8" stroke="#5fa35f"/>
<rect x="771" y="377" width="7" height="9" fill="#5fa35f"/>
<line x1="782.5" y1="368.8" x2="782.5" y2="381" stroke="#d9463d"/>
<line x1="782.5" y1="386" x2="782.5" y2="399.8" stroke="#d9463d"/>
<rect x="779.5" y="381.5" width="6" height="4" fill="#fff" stroke="#d9463d"/>
<line x1="790.5" y1="379.2" x2="790.5" y2="460.7" stroke="#5fa35f"/>
<rect x="787" y="385" width="7" height="76" fill="#5fa35f"/>
<line x1="798.5" y1="438.1" x2="798.5" y2="441" stroke="#d9463d"/>
<line x1="798.5" y1="461" x2="798.5" y2="474.4" stroke="#d9463d"/>
<rect x="795.5" y="441.5" width="6" height="19" fill="#fff" stroke="#d9463d"/>
<line x1="806.5" y1="440.1" x2="806.5" y2="446.6" stroke="#5fa35f"/>
<rect x="803" y="441" width="7" height="3" fill="#5fa35f"/>
<line x1="82" y1="444.5" x2="941" y2="444.5" stroke="#137ff0" stroke-dasharray="3,3"/>
<polyline points="86.0,332.5 99.2,333.0 115.4,334.3 131.5,335.4 179.0,335.9 195.0,337.4 211.3,338.4 219.4,339.4 235.6,340.4 243.6,341.4 259.8,342.4 283.2,344.1 299.4,345.1 320.6,347.1 338.8,350.2 363.0,353.2 385.3,356.2 411.5,361.3 440.0,365.3 457.0,367.5 466.6,369.5 482.5,371.8 498.5,373.9 514.4,375.6 530.3,377.7 540.0,379.1 557.0,381.6 574.0,384.2 591.0,386.2 608.0,388.4 625.0,391.0 642.0,393.5 659.0,395.2 676.0,396.9 700.0,399.0 729.5,399.8 755.0,402.0 789.0,407.1 806.0,411.3" fill="none" stroke="#ff00ff" stroke-width="1" shape-rendering="crispEdges"/>
<polyline points="86.0,537.3 99.6,539.3 113.2,539.3 122.5,537.6 137.8,535.9 154.8,532.6 166.7,530.8 182.0,524.9 199.0,516.7 209.3,514.7 233.5,514.6 234.5,513.6 249.5,513.5 250.5,512.6 255.5,512.5 256.5,511.6 269.1,508.6 284.0,505.4 294.6,501.1 309.5,494.8 322.3,493.1 335.0,491.6 349.9,489.5 364.8,486.3 377.5,482.4 392.4,478.8 407.3,471.4 422.2,464.0 437.0,459.3 450.0,456.1 463.0,453.5 483.4,445.1 503.8,436.9 524.2,428.0 542.0,423.7 554.8,419.6 567.6,417.0 582.9,416.0 602.9,409.6 616.5,403.3 630.1,397.3 642.0,392.2 655.6,387.1 672.7,382.9 689.7,377.8 700.0,373.5 709.1,369.8 726.1,361.2 739.1,356.5 747.7,353.6 756.3,351.7 764.0,349.6 777.4,349.6 779.3,348.6 784.0,348.6 788.8,350.4 795.5,351.6 806.0,351.6" fill="none" stroke="#000" stroke-width="1.0" shape-rendering="crispEdges"/>
<path d="M612,272.5 L619,272.5 M614.5,270 L614.5,274" stroke="#000" stroke-width="1"/>
<text x="619.20" y="269" font-size="12" font-weight="bold" fill="#d9463d" textLength="37.70" lengthAdjust="spacing" >1.4139</text>
<path d="M796,474.5 L803,474.5 M798.5,473 L798.5,476" stroke="#000" stroke-width="1"/>
<text x="803.00" y="486" font-size="12" font-weight="bold" fill="#6e9f55" textLength="38.00" lengthAdjust="spacing" >1.3799</text>
<rect x="86.0" y="770" width="1" height="16" fill="#d9463d"/>
<rect x="94.0" y="785" width="1" height="4" fill="#5fa35f"/>
<rect x="102.0" y="785" width="1" height="13" fill="#5fa35f"/>
<rect x="110.0" y="785" width="1" height="16" fill="#5fa35f"/>
<rect x="118.0" y="785" width="1" height="12" fill="#5fa35f"/>
<rect x="126.0" y="785" width="1" height="11" fill="#5fa35f"/>
<rect x="134.0" y="785" width="1" height="14" fill="#5fa35f"/>
<rect x="142.0" y="785" width="1" height="2" fill="#5fa35f"/>
<rect x="150.0" y="780" width="1" height="6" fill="#d9463d"/>
<rect x="158.0" y="782" width="1" height="4" fill="#d9463d"/>
<rect x="166.0" y="768" width="1" height="18" fill="#d9463d"/>
<rect x="174.0" y="762" width="1" height="24" fill="#d9463d"/>
<rect x="182.0" y="753" width="1" height="33" fill="#d9463d"/>
<rect x="190.0" y="774" width="1" height="12" fill="#d9463d"/>
<rect x="198.0" y="779" width="1" height="7" fill="#d9463d"/>
<rect x="206.0" y="785" width="1" height="5" fill="#5fa35f"/>
<rect x="214.0" y="785" width="1" height="24" fill="#5fa35f"/>
<rect x="222.0" y="785" width="1" height="43" fill="#5fa35f"/>
<rect x="230.0" y="785" width="1" height="53" fill="#5fa35f"/>
<rect x="238.0" y="785" width="1" height="52" fill="#5fa35f"/>
<rect x="246.0" y="785" width="1" height="39" fill="#5fa35f"/>
<rect x="254.0" y="785" width="1" height="26" fill="#5fa35f"/>
<rect x="262.0" y="785" width="1" height="11" fill="#5fa35f"/>
<rect x="270.0" y="783" width="1" height="3" fill="#d9463d"/>
<rect x="278.0" y="783" width="1" height="3" fill="#d9463d"/>
<rect x="286.0" y="775" width="1" height="11" fill="#d9463d"/>
<rect x="294.0" y="766" width="1" height="20" fill="#d9463d"/>
<rect x="302.0" y="771" width="1" height="15" fill="#d9463d"/>
<rect x="310.0" y="771" width="1" height="15" fill="#d9463d"/>
<rect x="318.0" y="785" width="1" height="6" fill="#5fa35f"/>
<rect x="326.0" y="785" width="1" height="26" fill="#5fa35f"/>
<rect x="334.0" y="785" width="1" height="25" fill="#5fa35f"/>
<rect x="342.0" y="785" width="1" height="17" fill="#5fa35f"/>
<rect x="350.0" y="785" width="1" height="14" fill="#5fa35f"/>
<rect x="358.0" y="785" width="1" height="3" fill="#5fa35f"/>
<rect x="366.0" y="777" width="1" height="9" fill="#d9463d"/>
<rect x="374.0" y="757" width="1" height="29" fill="#d9463d"/>
<rect x="382.0" y="738" width="1" height="48" fill="#d9463d"/>
<rect x="390.0" y="733" width="1" height="53" fill="#d9463d"/>
<rect x="398.0" y="742" width="1" height="44" fill="#d9463d"/>
<rect x="406.0" y="750" width="1" height="36" fill="#d9463d"/>
<rect x="414.0" y="756" width="1" height="30" fill="#d9463d"/>
<rect x="422.0" y="755" width="1" height="31" fill="#d9463d"/>
<rect x="430.0" y="760" width="1" height="26" fill="#d9463d"/>
<rect x="438.0" y="772" width="1" height="14" fill="#d9463d"/>
<rect x="446.0" y="779" width="1" height="7" fill="#d9463d"/>
<rect x="454.0" y="785" width="1" height="1" fill="#5fa35f"/>
<rect x="462.0" y="773" width="1" height="13" fill="#d9463d"/>
<rect x="470.0" y="775" width="1" height="11" fill="#d9463d"/>
<rect x="478.0" y="770" width="1" height="16" fill="#d9463d"/>
<rect x="486.0" y="768" width="1" height="18" fill="#d9463d"/>
<rect x="494.0" y="772" width="1" height="14" fill="#d9463d"/>
<rect x="502.0" y="774" width="1" height="12" fill="#d9463d"/>
<rect x="510.0" y="785" width="1" height="3" fill="#5fa35f"/>
<rect x="518.0" y="785" width="1" height="8" fill="#5fa35f"/>
<rect x="526.0" y="785" width="1" height="16" fill="#5fa35f"/>
<rect x="534.0" y="785" width="1" height="28" fill="#5fa35f"/>
<rect x="542.0" y="785" width="1" height="35" fill="#5fa35f"/>
<rect x="550.0" y="785" width="1" height="34" fill="#5fa35f"/>
<rect x="558.0" y="785" width="1" height="36" fill="#5fa35f"/>
<rect x="566.0" y="785" width="1" height="45" fill="#5fa35f"/>
<rect x="574.0" y="785" width="1" height="48" fill="#5fa35f"/>
<rect x="582.0" y="785" width="1" height="36" fill="#5fa35f"/>
<rect x="590.0" y="785" width="1" height="21" fill="#5fa35f"/>
<rect x="598.0" y="783" width="1" height="3" fill="#d9463d"/>
<rect x="606.0" y="762" width="1" height="24" fill="#d9463d"/>
<rect x="614.0" y="751" width="1" height="35" fill="#d9463d"/>
<rect x="622.0" y="746" width="1" height="40" fill="#d9463d"/>
<rect x="630.0" y="767" width="1" height="19" fill="#d9463d"/>
<rect x="638.0" y="785" width="1" height="3" fill="#5fa35f"/>
<rect x="646.0" y="785" width="1" height="15" fill="#5fa35f"/>
<rect x="654.0" y="785" width="1" height="24" fill="#5fa35f"/>
<rect x="662.0" y="785" width="1" height="21" fill="#5fa35f"/>
<rect x="670.0" y="785" width="1" height="21" fill="#5fa35f"/>
<rect x="678.0" y="785" width="1" height="12" fill="#5fa35f"/>
<rect x="686.0" y="785" width="1" height="23" fill="#5fa35f"/>
<rect x="694.0" y="785" width="1" height="12" fill="#5fa35f"/>
<rect x="702.0" y="778" width="1" height="8" fill="#d9463d"/>
<rect x="710.0" y="769" width="1" height="17" fill="#d9463d"/>
<rect x="718.0" y="764" width="1" height="22" fill="#d9463d"/>
<rect x="726.0" y="766" width="1" height="20" fill="#d9463d"/>
<rect x="734.0" y="783" width="1" height="3" fill="#d9463d"/>
<rect x="742.0" y="785" width="1" height="13" fill="#5fa35f"/>
<rect x="750.0" y="785" width="1" height="33" fill="#5fa35f"/>
<rect x="758.0" y="785" width="1" height="36" fill="#5fa35f"/>
<rect x="766.0" y="785" width="1" height="42" fill="#5fa35f"/>
<rect x="774.0" y="785" width="1" height="45" fill="#5fa35f"/>
<rect x="782.0" y="785" width="1" height="41" fill="#5fa35f"/>
<rect x="790.0" y="785" width="1" height="67" fill="#5fa35f"/>
<rect x="798.0" y="785" width="1" height="66" fill="#5fa35f"/>
<rect x="806.0" y="785" width="1" height="60" fill="#5fa35f"/>
<polyline points="86.5,756.4 94.5,756.4 102.5,758.0 110.5,760.6 118.5,761.5 126.5,762.8 134.5,764.5 142.5,764.0 150.5,763.2 158.5,763.2 166.5,761.5 174.5,757.7 182.5,753.8 190.5,752.6 198.5,752.1 206.5,753.5 214.5,757.2 222.5,761.8 230.5,768.3 238.5,775.1 246.5,780.0 254.5,782.6 262.5,783.4 270.5,783.8 278.5,783.4 286.5,782.1 294.5,780.4 302.5,778.7 310.5,776.5 318.5,777.0 326.5,780.4 334.5,783.4 342.5,785.5 350.5,787.2 358.5,787.2 366.5,786.3 374.5,783.8 382.5,777.0 390.5,770.2 398.5,765.1 406.5,760.8 414.5,756.6 422.5,753.2 430.5,750.3 438.5,748.6 446.5,748.1 454.5,748.1 462.5,746.4 470.5,744.7 478.5,742.6 486.5,740.9 494.5,739.6 502.5,737.9 510.5,739.0 518.5,739.6 526.5,741.3 534.5,745.5 542.5,749.8 550.5,753.2 558.5,757.4 566.5,763.4 574.5,769.0 582.5,772.7 590.5,776.5 598.5,776.5 606.5,773.1 614.5,769.3 622.5,764.6 630.5,762.2 638.5,762.5 646.5,764.6 654.5,767.6 662.5,769.3 670.5,772.2 678.5,773.6 686.5,776.1 694.5,777.5 702.5,776.5 710.5,775.4 718.5,772.4 726.5,770.5 734.5,769.5 742.5,771.3 750.5,775.0 758.5,779.0 766.5,785.4 774.5,790.6 782.5,795.4 790.5,803.2 798.5,812.2 806.5,818.9" fill="none" stroke="#1010b0" stroke-width="1" shape-rendering="crispEdges"/>
<polyline points="86.5,747.9 94.5,758.0 102.5,764.0 110.5,767.0 118.5,766.2 126.5,767.4 134.5,771.2 142.5,764.9 150.5,761.5 158.5,761.5 166.5,753.0 174.5,746.5 182.5,738.2 190.5,747.9 198.5,749.6 206.5,754.7 214.5,766.6 222.5,782.7 230.5,794.3 238.5,798.9 246.5,798.2 254.5,794.8 262.5,788.0 270.5,783.8 278.5,783.4 286.5,777.0 294.5,770.2 302.5,771.0 310.5,769.3 318.5,778.7 326.5,792.3 334.5,794.8 342.5,793.1 350.5,793.1 358.5,788.0 366.5,782.9 374.5,770.2 382.5,754.0 390.5,744.7 398.5,743.0 406.5,743.3 414.5,741.8 422.5,737.9 430.5,738.4 438.5,742.1 446.5,745.2 454.5,748.1 462.5,740.4 470.5,740.4 478.5,736.5 486.5,733.3 494.5,733.3 502.5,733.3 510.5,739.6 518.5,743.8 526.5,748.9 534.5,757.8 542.5,766.3 550.5,769.3 558.5,774.8 566.5,784.6 574.5,793.1 582.5,791.1 590.5,786.8 598.5,776.1 606.5,761.7 614.5,751.5 622.5,745.5 630.5,753.2 638.5,763.4 646.5,771.9 654.5,778.3 662.5,779.5 670.5,782.4 678.5,779.5 686.5,786.3 694.5,782.9 702.5,773.0 710.5,767.5 718.5,763.1 726.5,760.4 734.5,769.0 742.5,777.2 750.5,791.3 758.5,797.3 766.5,805.5 774.5,812.2 782.5,815.9 790.5,837.5 798.5,844.2 806.5,847.4" fill="none" stroke="#000" stroke-width="1.0" shape-rendering="crispEdges"/>
<text x="82.20" y="38" font-size="12" font-weight="normal" fill="#000" textLength="49.20" lengthAdjust="spacing" >美元加元</text>
<text x="129.00" y="38" font-size="12" font-weight="normal" fill="#ff7f00" textLength="50.50" lengthAdjust="spacing" >【日线】</text>
<circle cx="183.6" cy="35.4" r="4.0" fill="none" stroke="#ff8c1a" stroke-width="0.9"/><path d="M179.4,35.4 L187.8,35.4" stroke="#ff8000" stroke-width="1"/><path d="M183.6,31.4 L183.6,39.4" stroke="#ffa040" stroke-width="0.8"/>
<rect x="197.5" y="26.5" width="11.5" height="12" fill="#666"/>
<rect x="196.5" y="25.5" width="11" height="12" fill="#fff" stroke="#1a1a8c" stroke-width="1.1"/>
<path d="M197,32.5 L200.4,28.2 L203.5,31.3 L205.4,29.4 L207.1,29.4" fill="none" stroke="#f00" stroke-width="1"/>
<path d="M197,35.9 L200.6,31.3 L203.5,34.7 L205.4,32.3 L207.1,32.3" fill="none" stroke="#00f" stroke-width="1"/>
<text x="211.20" y="39" font-size="12" font-weight="normal" fill="#000" textLength="92.19" lengthAdjust="spacing" >MA1(50,0,200,0)</text>
<text x="307.50" y="39" font-size="12" font-weight="normal" fill="#000" textLength="75.39" lengthAdjust="spacing" >MA50:1.4005</text>
<text x="390.80" y="39" font-size="12" font-weight="normal" fill="#1e1e90" textLength="68.12" lengthAdjust="spacing" >MA0:1.3849</text>
<text x="467.00" y="39" font-size="12" font-weight="normal" fill="#ff00ff" textLength="81.76" lengthAdjust="spacing" >MA200:1.3905</text>
<text x="556.30" y="39" font-size="12" font-weight="normal" fill="#ff8000" textLength="68.72" lengthAdjust="spacing" >MA0:1.3849</text>
<g transform="translate(20.1,677)"><circle r="3.6" fill="none" stroke="#000" stroke-width="1.1"/><circle r="2.0" fill="#f00"/>
<line x1="5.20" y1="0.00" x2="7.20" y2="0.00" stroke="#f00" stroke-width="1"/>
<line x1="3.68" y1="3.68" x2="5.09" y2="5.09" stroke="#f00" stroke-width="1"/>
<line x1="0.00" y1="5.20" x2="0.00" y2="7.20" stroke="#f00" stroke-width="1"/>
<line x1="-3.68" y1="3.68" x2="-5.09" y2="5.09" stroke="#f00" stroke-width="1"/>
<line x1="-5.20" y1="0.00" x2="-7.20" y2="0.00" stroke="#f00" stroke-width="1"/>
<line x1="-3.68" y1="-3.68" x2="-5.09" y2="-5.09" stroke="#f00" stroke-width="1"/>
<line x1="-0.00" y1="-5.20" x2="-0.00" y2="-7.20" stroke="#f00" stroke-width="1"/>
<line x1="3.68" y1="-3.68" x2="5.09" y2="-5.09" stroke="#f00" stroke-width="1"/>
</g>
<text x="82.80" y="684" font-size="12" font-weight="normal" fill="#000" textLength="154.12" lengthAdjust="spacing" >MACD(13,8,9) DIFF:-0.0033</text>
<text x="245.30" y="684" font-size="12" font-weight="normal" fill="#1c1c8c" textLength="69.42" lengthAdjust="spacing" >DEA:-0.0018</text>
<text x="322.50" y="684" font-size="12" font-weight="normal" fill="#ff22ff" textLength="83.18" lengthAdjust="spacing" >MACD:-0.0030</text>
<rect x="238" y="926" width="1" height="5" fill="#c8cfd9"/>
<text x="240.20" y="938" font-size="12" font-weight="bold" fill="#222" textLength="44.69" lengthAdjust="spacing" >2025/09</text>
<rect x="414" y="926" width="1" height="5" fill="#c8cfd9"/>
<text x="416.20" y="938" font-size="12" font-weight="bold" fill="#222" textLength="44.69" lengthAdjust="spacing" >2025/10</text>
<rect x="598" y="926" width="1" height="5" fill="#c8cfd9"/>
<text x="600.20" y="938" font-size="12" font-weight="bold" fill="#222" textLength="44.02" lengthAdjust="spacing" >2025/11</text>
<rect x="758" y="926" width="1" height="5" fill="#c8cfd9"/>
<text x="760.20" y="938" font-size="12" font-weight="bold" fill="#222" textLength="44.69" lengthAdjust="spacing" >2025/12</text>
<rect x="10.5" y="925.5" width="70" height="19" fill="#fff" stroke="#c8cfd9"/>
<text x="25" y="940.5" font-size="13" font-weight="bold" fill="#ff6a00">日线</text>
<path d="M55.5,940 L59.8,932.3 L64,940 Z" fill="#ff6a00"/>
<rect x="11" y="945" width="930" height="1" fill="#c8cfd9"/>
<rect x="11" y="945" width="39" height="4" fill="#ff6a00"/>
<rect x="50" y="945" width="1" height="4" fill="#c8cfd9"/>
<rect x="90" y="945" width="1" height="4" fill="#c8cfd9"/>
<rect x="148" y="945" width="1" height="4" fill="#c8cfd9"/>
<rect x="176" y="945" width="1" height="4" fill="#c8cfd9"/>
<rect x="216" y="945" width="1" height="4" fill="#c8cfd9"/>
<rect x="256" y="945" width="1" height="4" fill="#c8cfd9"/>
<rect x="290" y="945" width="1" height="4" fill="#c8cfd9"/>
<rect x="330" y="945" width="1" height="4" fill="#c8cfd9"/>
<rect x="364" y="945" width="1" height="4" fill="#c8cfd9"/>
<rect x="398" y="945" width="1" height="4" fill="#c8cfd9"/>
<rect x="438" y="945" width="1" height="4" fill="#c8cfd9"/>
<rect x="472" y="945" width="1" height="4" fill="#c8cfd9"/>
<rect x="500" y="945" width="1" height="4" fill="#c8cfd9"/>
<rect x="534" y="945" width="1" height="4" fill="#c8cfd9"/>
<rect x="574" y="945" width="1" height="4" fill="#c8cfd9"/>
<text x="20" y="957" font-size="12" fill="#fff">指标</text>
<text x="60" y="957" font-size="12" fill="#111">模板</text>
<text x="118" y="957" font-size="13" fill="#ff6a00">指标</text>
<text x="543" y="957" font-size="12" fill="#111">设置</text>
<text transform="translate(813.31,925) scale(0.87,1)" font-size="32" fill="#b09a86" stroke="#b09a86" stroke-width="0.5">F</text>
<text transform="translate(812.11,924) scale(0.87,1)" font-size="32" fill="#dce8f6" stroke="#dce8f6" stroke-width="0.5">F</text>
<text transform="translate(834.64,925) scale(0.87,1)" font-size="32" fill="#b09a86" stroke="#b09a86" stroke-width="0.5">X</text>
<text transform="translate(833.44,924) scale(0.87,1)" font-size="32" fill="#dce8f6" stroke="#dce8f6" stroke-width="0.5">X</text>
<text transform="translate(856.46,925) scale(0.87,1)" font-size="32" fill="#b09a86" stroke="#b09a86" stroke-width="0.5">6</text>
<text transform="translate(855.26,924) scale(0.87,1)" font-size="32" fill="#dce8f6" stroke="#dce8f6" stroke-width="0.5">6</text>
<text transform="translate(875.71,925) scale(0.87,1)" font-size="32" fill="#b09a86" stroke="#b09a86" stroke-width="0.5">7</text>
<text transform="translate(874.51,924) scale(0.87,1)" font-size="32" fill="#dce8f6" stroke="#dce8f6" stroke-width="0.5">7</text>
<text transform="translate(894.97,925) scale(0.87,1)" font-size="32" fill="#b09a86" stroke="#b09a86" stroke-width="0.5">8</text>
<text transform="translate(893.77,924) scale(0.87,1)" font-size="32" fill="#dce8f6" stroke="#dce8f6" stroke-width="0.5">8</text>
</svg></body></html>
